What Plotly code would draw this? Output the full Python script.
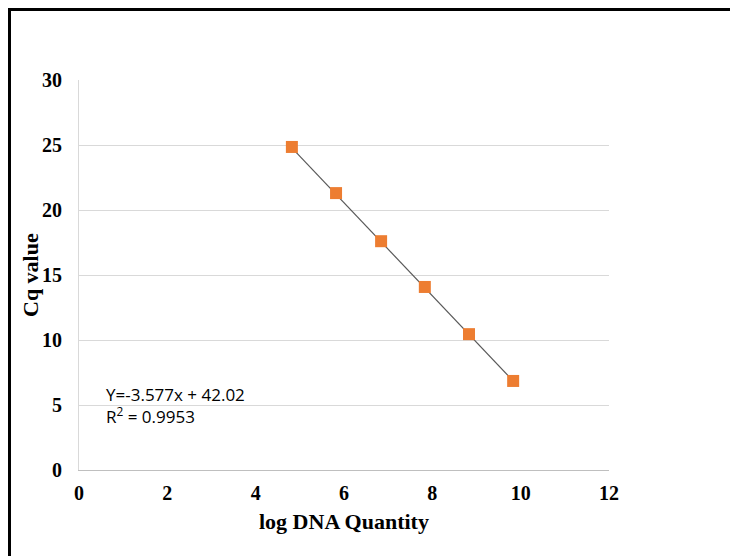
import plotly.graph_objects as go

log_dna = [4.82, 5.82, 6.84, 7.83, 8.83, 9.83]
cq_value = [24.85, 21.3, 17.6, 14.08, 10.45, 6.85]
slope = -3.577
intercept = 42.02
r2 = 0.9953
x_ticks = [0, 2, 4, 6, 8, 10, 12]
y_ticks = [0, 5, 10, 15, 20, 25, 30]

fit_x = [min(log_dna), max(log_dna)]
fit_y = [slope * v + intercept for v in fit_x]

fig = go.Figure()
fig.add_trace(go.Scatter(x=fit_x, y=fit_y, mode="lines",
                         line=dict(color="#595959", width=1.2), showlegend=False, hoverinfo="skip"))
fig.add_trace(go.Scatter(x=log_dna, y=cq_value, mode="markers",
                         marker=dict(symbol="square", size=12, color="#ED7D31",
                                     line=dict(width=0)), showlegend=False))

serif = "Liberation Serif, Times New Roman, serif"
sans = "Open Sans, Liberation Sans, sans-serif"
# page has an 8px body offset; plot area sits at page x 79..609, y 80..470
L, T, W, H = 71, 72, 530, 390


def px(page_x):
    return (page_x - 79) / W


def py(page_y):
    return (470 - page_y) / H


fig.update_layout(
    width=738, height=556,
    margin=dict(l=L, r=738 - L - W, t=T, b=556 - T - H),
    paper_bgcolor="white", plot_bgcolor="white",
    xaxis=dict(range=[0, 12], tickvals=x_ticks, showgrid=False, zeroline=False,
               showline=True, linecolor="#BFBFBF", linewidth=1, ticks="",
               ticklabelstandoff=5, automargin=False,
               tickfont=dict(family=serif, size=20, color="black", weight="bold")),
    yaxis=dict(range=[0, 30], tickvals=y_ticks, showgrid=True, gridcolor="#D9D9D9", gridwidth=1,
               zeroline=False, showline=True, linecolor="#D9D9D9", linewidth=1,
               ticks="", ticklabelstandoff=12, automargin=False,
               tickfont=dict(family=serif, size=20, color="black", weight="bold")),
    shapes=[dict(type="rect", xref="paper", yref="paper",
                 x0=px(9.5), x1=px(760),
                 y0=py(600), y1=py(9.5),
                 line=dict(color="black", width=3), fillcolor="rgba(0,0,0,0)", layer="below")],
    annotations=[
        dict(xref="paper", yref="paper", x=px(30), y=py(275),
             xanchor="center", yanchor="middle", showarrow=False, textangle=-90,
             text="Cq value",
             font=dict(family=serif, size=22, color="black", weight="bold")),
        dict(xref="paper", yref="paper", x=px(344), y=py(521),
             xanchor="center", yanchor="middle", showarrow=False,
             text="log DNA Quantity",
             font=dict(family=serif, size=22, color="black", weight="bold")),
        dict(xref="paper", yref="paper", x=px(104), y=py(405),
             xanchor="left", yanchor="middle", showarrow=False, align="left",
             text=f"Y={slope}x + {intercept}<br>R<sup>2</sup> = {r2}",
             font=dict(family=sans, size=17, color="black")),
    ],
)

fig.write_html("out.html")
